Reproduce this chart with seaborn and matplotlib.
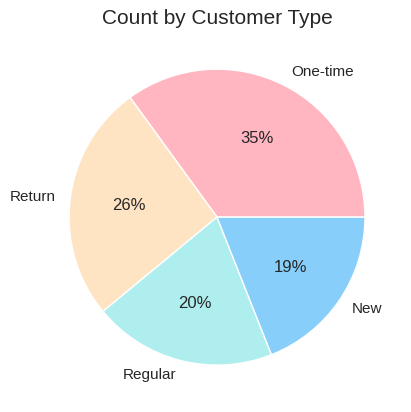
import matplotlib
matplotlib.use("Agg")
import matplotlib.pyplot as plt
import seaborn as sns

categories = ["One-time", "Return", "Regular", "New"]
counts = [35, 26, 20, 19]
colors = ["#FFB6C1", "#FFE4C4", "#AFEEEE", "#87CEFA"]

sns.set_theme(style="white")
plt.rcParams['font.family'] = ['Liberation Sans', 'DejaVu Sans']

fig, ax = plt.subplots(figsize=(4.11, 4.12), dpi=100)
wedges, texts, autotexts = ax.pie(
    counts, labels=categories, colors=colors, autopct='%1.0f%%',
    wedgeprops={'edgecolor': 'white', 'linewidth': 1},
    textprops={'color': '#262626', 'fontsize': 11})
for t in autotexts:
    t.set_fontsize(12)
ax.set_title("Count by Customer Type", fontsize=15, color='#262626')
ax.set_aspect('equal')
fig.subplots_adjust(left=0.078, right=0.978, top=0.922, bottom=0.024)
fig.savefig("out.png", dpi=100)
